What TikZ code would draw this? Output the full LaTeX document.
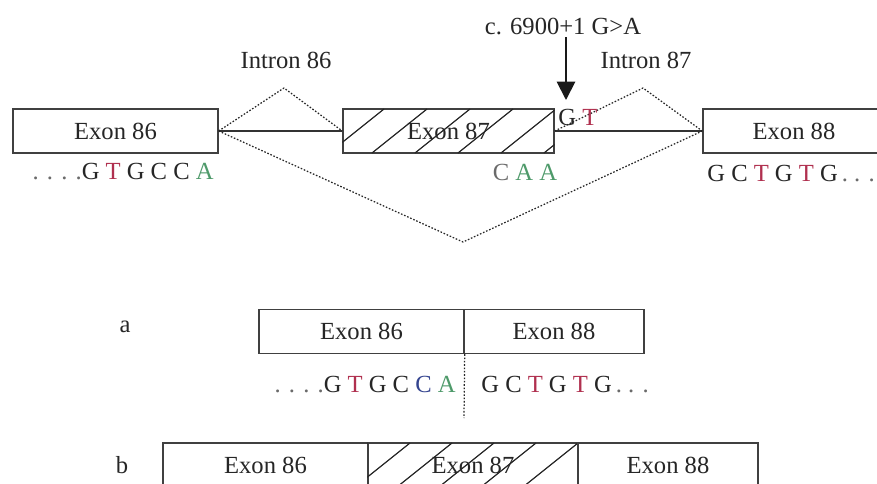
\documentclass[tikz,border=0pt]{standalone}
\usepackage{fontspec}
\setmainfont{Liberation Serif}
\usetikzlibrary{arrows.meta}
\definecolor{nucred}{HTML}{B0304F}
\definecolor{nucgreen}{HTML}{4E9A6A}
\definecolor{nucblue}{HTML}{34448F}
\definecolor{nucgray}{HTML}{6A6A6A}
\newcommand{\nucT}{{\color{nucred}T}}
\newcommand{\nucA}{{\color{nucgreen}A}}
\newcommand{\nucC}{{\color{nucblue}C}}
\newcommand{\nucdots}{{\color{nucgray}. . . .}}

\begin{document}
\begin{tikzpicture}[x=0.02cm, y=-0.02cm,
    every node/.style={font=\fontsize{14}{16}\selectfont, text=black!85},
    exon/.style={draw=black!75, line width=0.8pt, minimum height=0.88cm, inner sep=0pt},
    seq/.style={inner sep=0pt},
    intron/.style={black!85, line width=0.7pt, dash pattern=on 0.9pt off 1pt},
    hatch/.style={black!85, line width=0.7pt}]
\clip (0,0) rectangle (877,484);
\fill[white] (0,0) rectangle (877,484);

% pre-mRNA with the splice site mutation
\node[exon, minimum width=4.1cm] (e86) at (115.5,131) {Exon 86};
\node[exon, minimum width=4.22cm] (e87) at (448.5,131) {Exon 87};
\begin{scope}
    \clip (e87.south west) rectangle (e87.north east);
    \foreach \x in {329,372,...,546}
        \draw[hatch] (\x,153) -- +(55,-44);
\end{scope}
\node[exon, minimum width=3.64cm] (e88) at (794,131) {Exon 88};

\node (i86label) at (286,60) {Intron 86};
\node (i87label) at (646,60) {Intron 87};
\node (mut) at (563,26) {c. 6900+1 G>A};
\coordinate (hit) at (566,100);
\draw[-{Triangle[width=10.5pt,length=10.5pt]}, line width=1.1pt, black!90] ([yshift=2pt]mut.south -| hit) -- (hit);

\coordinate (i86) at (284,88);
\coordinate (i87) at (643,88);
\coordinate (skip) at (463,242);
\draw[black!80, line width=0.6pt] (e86.east) -- (e87.west);
\draw[black!80, line width=0.6pt] (e87.east) -- (e88.west);
\draw[intron] (e86.east) -- (i86) -- (e87.west);
\draw[intron] (e87.east) -- (i87) -- (e88.west);
\draw[intron] (e86.east) -- (skip) -- (e88.west);

\node[seq, anchor=east] (s86) at (214,172) {\nucdots G \nucT{} G C C \nucA};
\node[seq] (s87) at (525,172) {{\color{nucgray}C} \nucA{} \nucA};
\node[seq, anchor=west] (don) at (558,117) {G \nucT};
\node[seq, anchor=west] (s88) at (707,174) {G C \nucT{} G \nucT{} G\,{\color{nucgray}. . .}};

% a: exon 87 skipped
\node (alabel) at (125,327) {a};
\node[exon, minimum width=4.1cm] (a86) at (361.5,331.5) {Exon 86};
\node[exon, minimum width=3.6cm] (a88) at (554,331.5) {Exon 88};
\coordinate (ajoin) at (464,418);
\draw[intron] (a86.south east) -- (ajoin);
\node[seq, anchor=east] (as86) at (456,385) {\nucdots G \nucT{} G C \nucC{} \nucA};
\node[seq, anchor=west] (as88) at (481,385) {G C \nucT{} G \nucT{} G\,{\color{nucgray}. . .}};

% b: normal transcript
\node (blabel) at (122,465) {b};
\node[exon, minimum width=4.1cm] (b86) at (265.5,465) {Exon 86};
\node[exon, minimum width=4.2cm] (b87) at (473,465) {Exon 87};
\begin{scope}
    \clip (b87.south west) rectangle (b87.north east);
    \foreach \x in {313,355,...,524}
        \draw[hatch] (\x,487) -- +(55,-44);
\end{scope}
\node[exon, minimum width=3.6cm] (b88) at (668,465) {Exon 88};
\end{tikzpicture}
\end{document}
